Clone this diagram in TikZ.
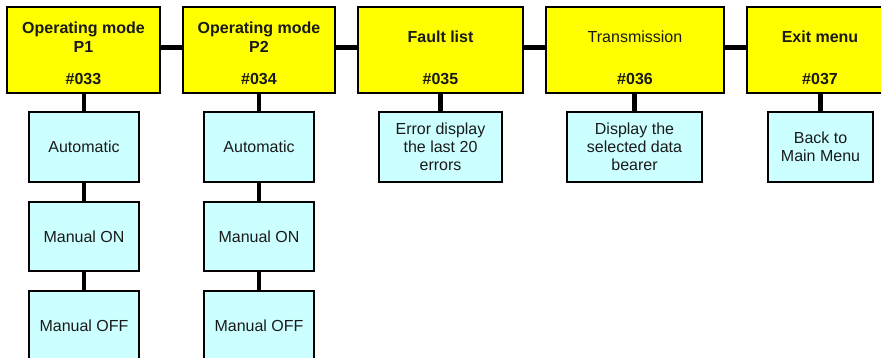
\documentclass[tikz,border=0pt]{standalone}
\usepackage{fontspec}
\setmainfont{Liberation Sans}
\definecolor{menuyellow}{HTML}{FFFF00}
\definecolor{subcyan}{HTML}{CCFFFF}
\definecolor{txt}{HTML}{1A1A1A}
\tikzset{
  menubox/.style={draw=black, line width=1.6pt, fill=menuyellow, minimum height=86pt, inner sep=0pt},
  subbox/.style={draw=black, line width=1.6pt, fill=subcyan, minimum height=70pt, inner sep=0pt,
    align=center, text=txt, font=\fontsize{16}{18}\selectfont},
  ttl/.style={anchor=base, inner sep=0pt, text=txt, font=\fontsize{16}{18}\selectfont\bfseries},
  ttlr/.style={anchor=base, inner sep=0pt, text=txt, font=\fontsize{16}{18}\selectfont},
  conn/.style={draw=black, line width=4.6pt}
}
\begin{document}
\begin{tikzpicture}[x=1pt,y=-1pt]
\useasboundingbox (0,0) rectangle (881,358);
% top row
\node[menubox, minimum width=153pt] (b1) at (83.5,50) {};
\node[menubox, minimum width=152pt] (b2) at (259,50) {};
\node[menubox, minimum width=165pt] (b3) at (440.5,50) {};
\node[menubox, minimum width=178pt] (b4) at (635,50) {};
\node[menubox, minimum width=146pt] (b5) at (820,50) {};
% sub boxes
\node[subbox, minimum width=110pt] (s1a) at (84,147) {Automatic};
\node[subbox, minimum width=110pt, minimum height=69pt] (s1b) at (84,236.5) {Manual ON};
\node[subbox, minimum width=110pt] (s1c) at (84,326) {Manual OFF};
\node[subbox, minimum width=110pt] (s2a) at (259,147) {Automatic};
\node[subbox, minimum width=110pt, minimum height=69pt] (s2b) at (259,236.5) {Manual ON};
\node[subbox, minimum width=110pt] (s2c) at (259,326) {Manual OFF};
\node[subbox, minimum width=123pt] (s3) at (440.5,147) {Error display\\the last 20\\errors};
\node[subbox, minimum width=135pt] (s4) at (634.5,147) {Display the\\selected data\\bearer};
\node[subbox, minimum width=105pt] (s5) at (820.5,147) {Back to\\Main Menu};
% titles
\node[ttl] (t1a) at (83.5,33.3) {Operating mode};
\node[ttl] (t1b) at (83.5,52.3) {P1};
\node[ttl] (n1) at (83.5,85) {\#033};
\node[ttl] (t2a) at (259,33.3) {Operating mode};
\node[ttl] (t2b) at (259,52.3) {P2};
\node[ttl] (n2) at (259,85) {\#034};
\node[ttl] (t3) at (440.5,43) {Fault list};
\node[ttl] (n3) at (440.5,85) {\#035};
\node[ttlr] (t4) at (635,43) {Transmission};
\node[ttl] (n4) at (635,85) {\#036};
\node[ttl] (t5) at (820,43) {Exit menu};
\node[ttl] (n5) at (820,85) {\#037};
% horizontal connectors
\draw[conn] (b1.east |- 0,47.5) -- (b2.west |- 0,47.5);
\draw[conn] (b2.east |- 0,47.5) -- (b3.west |- 0,47.5);
\draw[conn] (b3.east |- 0,47.5) -- (b4.west |- 0,47.5);
\draw[conn] (b4.east |- 0,47.5) -- (b5.west |- 0,47.5);
% vertical connectors
\draw[conn] (s1a.north |- b1.south) -- (s1a.north);
\draw[conn] (s1a.south) -- (s1b.north);
\draw[conn] (s1b.south) -- (s1c.north);
\draw[conn] (s2a.north |- b2.south) -- (s2a.north);
\draw[conn] (s2a.south) -- (s2b.north);
\draw[conn] (s2b.south) -- (s2c.north);
\draw[conn] (s3.north |- b3.south) -- (s3.north);
\draw[conn] (s4.north |- b4.south) -- (s4.north);
\draw[conn] (s5.north |- b5.south) -- (s5.north);
\end{tikzpicture}
\end{document}
